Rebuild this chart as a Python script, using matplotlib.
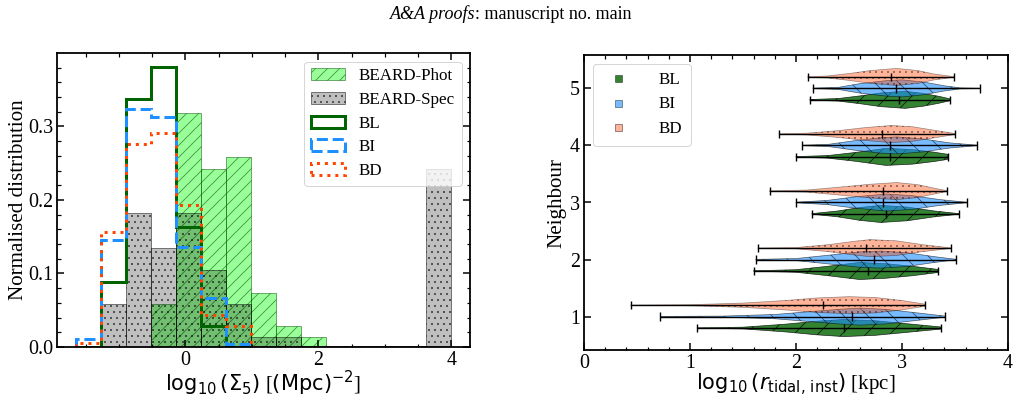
import numpy as np
import matplotlib
matplotlib.use("Agg")
import matplotlib.pyplot as plt
from matplotlib.ticker import MultipleLocator
from matplotlib.lines import Line2D

plt.rcParams['font.family'] = 'serif'
plt.rcParams['font.serif'] = ['Liberation Serif', 'DejaVu Serif']
plt.rcParams['mathtext.fontset'] = 'dejavusans'
plt.rcParams['hatch.linewidth'] = 0.8

# ---------------- left panel data ----------------
bin_edges = np.linspace(-1.65, 4.0, 16)
phot_frac = [0.0, 0.0, 0.0, 0.059, 0.318, 0.242, 0.258, 0.074, 0.029, 0.014, 0.0, 0.0, 0.0, 0.0, 0.0]
spec_frac = [0.0, 0.059, 0.182, 0.135, 0.182, 0.105, 0.059, 0.014, 0.014, 0.0, 0.0, 0.0, 0.0, 0.0, 0.242]
bl_frac = [0.0, 0.089, 0.337, 0.381, 0.163, 0.029, 0.0, 0.0, 0.0, 0.0, 0.0, 0.0, 0.0, 0.0, 0.0]
bi_frac = [0.0105, 0.145, 0.324, 0.313, 0.136, 0.066, 0.004, 0.0, 0.0, 0.0, 0.0, 0.0, 0.0, 0.0, 0.0]
bd_frac = [0.006, 0.157, 0.276, 0.291, 0.193, 0.043, 0.029, 0.0, 0.0, 0.0, 0.0, 0.0, 0.0, 0.0, 0.0]

# ---------------- right panel data ----------------
neighbours = [1, 2, 3, 4, 5]
bl_min = [1.07, 1.60, 2.15, 2.00, 2.13]
bl_max = [3.37, 3.34, 3.54, 3.43, 3.45]
bl_med = [2.45, 2.68, 2.85, 2.89, 2.97]
bi_min = [0.72, 1.62, 2.00, 2.06, 2.16]
bi_max = [3.41, 3.51, 3.61, 3.71, 3.74]
bi_med = [2.53, 2.74, 2.82, 2.89, 2.94]
bd_min = [0.44, 1.64, 1.75, 1.84, 2.11]
bd_max = [3.22, 3.46, 3.42, 3.50, 3.49]
bd_med = [2.25, 2.66, 2.82, 2.81, 2.90]

# density profiles (position, relative width)
bl_prof_x = [[1.07, 1.5, 1.9, 2.2, 2.45, 2.75, 3.05, 3.37],
             [1.60, 2.0, 2.3, 2.6, 2.85, 3.1, 3.34],
             [2.15, 2.4, 2.6, 2.8, 3.05, 3.3, 3.54],
             [2.00, 2.3, 2.55, 2.85, 3.1, 3.3, 3.43],
             [2.13, 2.4, 2.6, 2.8, 3.03, 3.2, 3.35, 3.45]]
bl_prof_w = [[0.02, 0.1, 0.45, 0.8, 1.0, 0.85, 0.5, 0.12],
             [0.02, 0.15, 0.55, 1.0, 0.85, 0.55, 0.18],
             [0.03, 0.35, 0.75, 1.0, 0.8, 0.35, 0.03],
             [0.03, 0.15, 0.5, 1.0, 0.85, 0.55, 0.3],
             [0.03, 0.15, 0.45, 0.8, 1.0, 0.75, 0.4, 0.12]]
bi_prof_x = [[0.72, 1.3, 1.8, 2.1, 2.4, 2.6, 2.85, 3.1, 3.41],
             [1.62, 2.0, 2.3, 2.6, 2.8, 3.05, 3.3, 3.51],
             [2.00, 2.3, 2.55, 2.85, 3.1, 3.35, 3.61],
             [2.06, 2.3, 2.55, 2.8, 2.95, 3.2, 3.45, 3.71],
             [2.16, 2.4, 2.6, 2.85, 3.0, 3.2, 3.4, 3.55, 3.74]]
bi_prof_w = [[0.02, 0.06, 0.25, 0.55, 0.85, 1.0, 0.85, 0.5, 0.06],
             [0.02, 0.12, 0.5, 0.9, 1.0, 0.8, 0.35, 0.03],
             [0.03, 0.25, 0.65, 1.0, 0.8, 0.35, 0.03],
             [0.03, 0.12, 0.55, 0.9, 1.0, 0.75, 0.3, 0.03],
             [0.03, 0.12, 0.55, 0.9, 1.0, 0.75, 0.3, 0.06, 0.02]]
bd_prof_x = [[0.44, 1.0, 1.5, 1.9, 2.2, 2.5, 2.75, 3.0, 3.22],
             [1.64, 2.0, 2.3, 2.55, 2.7, 2.95, 3.2, 3.46],
             [1.75, 2.1, 2.4, 2.7, 2.95, 3.15, 3.3, 3.42],
             [1.84, 2.1, 2.4, 2.65, 2.9, 3.1, 3.3, 3.50],
             [2.11, 2.3, 2.5, 2.7, 2.95, 3.15, 3.3, 3.49]]
bd_prof_w = [[0.02, 0.06, 0.25, 0.55, 0.85, 1.0, 0.9, 0.55, 0.12],
             [0.02, 0.07, 0.4, 0.8, 1.0, 0.85, 0.4, 0.03],
             [0.03, 0.12, 0.45, 0.8, 1.0, 0.75, 0.35, 0.06],
             [0.03, 0.1, 0.4, 0.75, 1.0, 0.85, 0.45, 0.06],
             [0.03, 0.12, 0.4, 0.75, 1.0, 0.75, 0.35, 0.03]]

# ---------------- figure ----------------
W, H, DPI = 1019, 403, 72
fig = plt.figure(figsize=(W / DPI, H / DPI), dpi=DPI)

fig.text(475 / W, 0.965, 'A&A proofs', ha='right', va='center', fontsize=18, style='italic')
fig.text(475 / W, 0.965, ': manuscript no. main', ha='left', va='center', fontsize=18)

ax1 = fig.add_axes([57 / W, 1 - 347 / H, 413 / W, 294 / H])
ax2 = fig.add_axes([584 / W, 1 - 350 / H, 424 / W, 295 / H])

centres = 0.5 * (bin_edges[1:] + bin_edges[:-1])
ax1.hist(centres, bins=bin_edges, weights=phot_frac, histtype='bar',
         facecolor=(0.0, 1.0, 0.0, 0.4), edgecolor=(0.0, 0.3, 0.0, 0.6), linewidth=0.8,
         hatch='//', label='BEARD-Phot')
ax1.hist(centres, bins=bin_edges, weights=spec_frac, histtype='bar',
         facecolor=(0.0, 0.0, 0.0, 0.25), edgecolor=(0.0, 0.0, 0.0, 0.6), linewidth=0.8,
         hatch='..', label='BEARD-Spec')
ax1.hist(centres, bins=bin_edges, weights=bl_frac, histtype='step',
         color='darkgreen', linewidth=3, label='BL')
ax1.hist(centres, bins=bin_edges, weights=bi_frac, histtype='step',
         color='dodgerblue', linewidth=3, linestyle='--', label='BI')
ax1.hist(centres, bins=bin_edges, weights=bd_frac, histtype='step',
         color='orangered', linewidth=3, linestyle=':', label='BD')

ax1.set_xlim(-1.9325, 4.2825)
ax1.set_ylim(0, 0.3999)
ax1.xaxis.set_major_locator(MultipleLocator(2))
ax1.xaxis.set_minor_locator(MultipleLocator(0.5))
ax1.yaxis.set_major_locator(MultipleLocator(0.1))
ax1.yaxis.set_minor_locator(MultipleLocator(0.02))
ax1.set_xlabel(r'$\log_{10}(\Sigma_5)$ [$(\mathrm{Mpc})^{-2}$]', fontsize=21, labelpad=-1)
ax1.set_ylabel('Normalised distribution', fontsize=21, labelpad=0)
ax1.legend(loc='upper right', fontsize=17, labelspacing=0.45, borderpad=0.4,
           handlelength=2.0, handleheight=0.7, borderaxespad=0.5)

# violins
groups = [
    ('BL', -0.2, 'darkgreen', 0.8, '/', bl_min, bl_max, bl_med, bl_prof_x, bl_prof_w),
    ('BI', 0.0, 'dodgerblue', 0.6, '\\', bi_min, bi_max, bi_med, bi_prof_x, bi_prof_w),
    ('BD', 0.2, 'orangered', 0.4, '..', bd_min, bd_max, bd_med, bd_prof_x, bd_prof_w),
]
handles = []
for name, off, col, alpha, hatch, mins, maxs, meds, px, pw in groups:
    stats = []
    for i in range(len(neighbours)):
        stats.append(dict(coords=np.array(px[i]), vals=np.array(pw[i]),
                          mean=meds[i], median=meds[i], min=mins[i], max=maxs[i]))
    pos = [n + off for n in neighbours]
    parts = ax2.violin(stats, positions=pos, orientation='horizontal', widths=0.3,
                       showmeans=False, showextrema=True, showmedians=True)
    for body in parts['bodies']:
        body.set_facecolor(col)
        body.set_edgecolor('k')
        body.set_linewidth(0.7)
        body.set_hatch(hatch)
        body.set_alpha(alpha)
    for key in ('cbars', 'cmins', 'cmaxes', 'cmedians'):
        parts[key].set_color('k')
        parts[key].set_linewidth(1.4)
    handles.append(Line2D([], [], marker='s', linestyle='none', markersize=7,
                          markerfacecolor=matplotlib.colors.to_rgba(col, alpha),
                          markeredgecolor=(0, 0, 0, 0.5), markeredgewidth=0.8, label=name))

ax2.set_xlim(0, 4)
ax2.set_ylim(0.415, 5.585)
ax2.xaxis.set_major_locator(MultipleLocator(1))
ax2.xaxis.set_minor_locator(MultipleLocator(0.2))
ax2.set_yticks(neighbours)
ax2.set_xlabel(r'$\log_{10}(r_{\mathrm{tidal,\,inst}})$ [kpc]', fontsize=21, labelpad=-1)
ax2.set_ylabel('Neighbour', fontsize=21, labelpad=4)
ax2.legend(handles=handles, loc='upper left', fontsize=17, labelspacing=0.5,
           handlelength=2.0, handletextpad=1.4, borderpad=0.5, borderaxespad=0.5)

for ax in (ax1, ax2):
    for sp in ax.spines.values():
        sp.set_linewidth(1.8)
    ax.tick_params(which='both', direction='in', top=True, right=True, labelsize=20)
    ax.tick_params(which='major', length=7, width=1.5, pad=4)
    ax.tick_params(which='minor', length=3.5, width=1.2)

fig.savefig('out.png', dpi=DPI)
